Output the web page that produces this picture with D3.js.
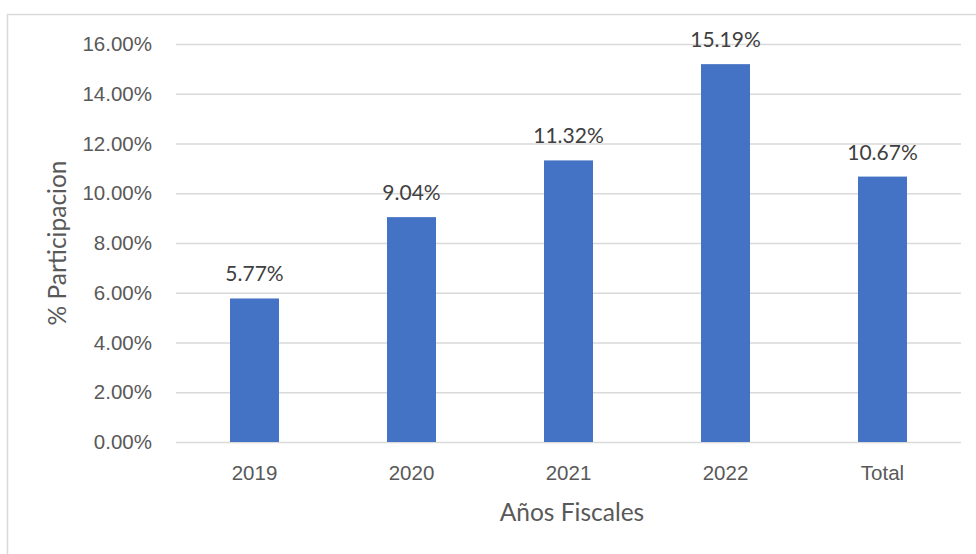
<!DOCTYPE html>
<html>
<head>
<meta charset="utf-8">
<script src="https://cdn.jsdelivr.net/npm/d3@7"></script>
<style>
  body { margin: 0; background: #fff; }
  svg { display: block; font-family: Lato, "Open Sans", sans-serif; }
</style>
</head>
<body>
<script>
const years = ['2019', '2020', '2021', '2022', 'Total'];
const shares = [5.77, 9.04, 11.32, 15.19, 10.67];
const yTicks = [0, 2, 4, 6, 8, 10, 12, 14, 16];

const width = 976;
const height = 554;
const margin = { top: 44, right: 15, bottom: 112, left: 176 };

const svg = d3.select('body')
  .append('svg')
  .attr('width', width)
  .attr('height', height);

// chart frame (only top and left edges show in the crop)
svg.append('path')
  .attr('d', `M7.5,${height} V14.5 H${width}`)
  .attr('fill', 'none')
  .attr('stroke', '#d9d9d9')
  .attr('stroke-width', 1.5);

const x = d3.scaleBand()
  .domain(years)
  .range([margin.left, width - margin.right])
  .paddingInner(0.688)
  .paddingOuter(0.344);

const y = d3.scaleLinear()
  .domain([0, 16])
  .range([height - margin.bottom, margin.top]);

// gridlines + y labels
const yAxis = svg.append('g')
  .attr('transform', `translate(${margin.left},0)`)
  .call(d3.axisLeft(y)
    .tickValues(yTicks)
    .tickSize(-(width - margin.left - margin.right))
    .tickPadding(24)
    .tickFormat(d => d.toFixed(2) + '%'));
yAxis.select('.domain').remove();
yAxis.selectAll('line').attr('stroke', '#d9d9d9').attr('stroke-width', 1.3);
yAxis.selectAll('text')
  .attr('fill', '#595959')
  .style('font-size', '20.5px');

// bars
svg.selectAll('rect.bar')
  .data(shares)
  .enter()
  .append('rect')
  .attr('class', 'bar')
  .attr('x', (d, i) => x(years[i]))
  .attr('y', d => y(d))
  .attr('width', x.bandwidth())
  .attr('height', d => y(0) - y(d))
  .attr('fill', '#4472c4');

// value labels
svg.selectAll('text.val')
  .data(shares)
  .enter()
  .append('text')
  .attr('class', 'val')
  .attr('x', (d, i) => x(years[i]) + x.bandwidth() / 2)
  .attr('y', d => y(d) - 17)
  .attr('text-anchor', 'middle')
  .attr('fill', '#404040')
  .style('font-size', '21px')
  .text(d => d.toFixed(2) + '%');

// x axis labels
const xAxis = svg.append('g')
  .attr('transform', `translate(0,${y(0)})`)
  .call(d3.axisBottom(x).tickSize(0).tickPadding(23));
xAxis.select('.domain').remove();
xAxis.selectAll('text')
  .attr('fill', '#595959')
  .style('font-size', '20.5px');

// axis titles
svg.append('text')
  .attr('x', 572)
  .attr('y', 521)
  .attr('text-anchor', 'middle')
  .attr('fill', '#595959')
  .style('font-size', '24.5px')
  .text('Años Fiscales');

svg.append('text')
  .attr('transform', `translate(66,${(y(0) + y(16)) / 2}) rotate(-90)`)
  .attr('text-anchor', 'middle')
  .attr('fill', '#595959')
  .style('font-size', '24.5px')
  .text('% Participacion');
</script>
</body>
</html>
